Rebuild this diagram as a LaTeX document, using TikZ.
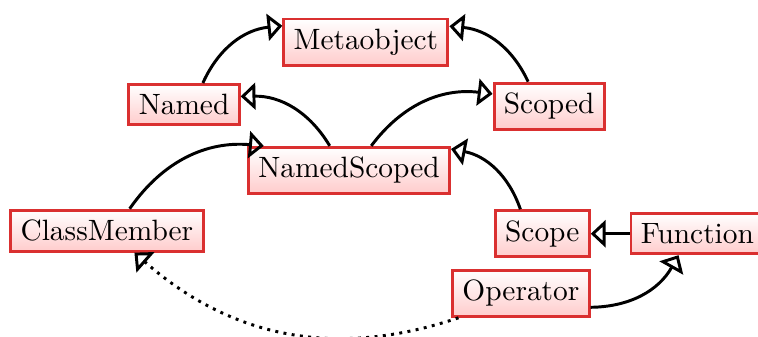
\documentclass[11pt,tikz,border=0pt]{standalone}
\usetikzlibrary{arrows.meta}
\definecolor{clsred}{RGB}{218,48,48}
\begin{document}
\begin{tikzpicture}[
    cls/.style={draw=clsred, line width=1.1pt, top color=white, bottom color=red!20},
    inherit/.style={-{Triangle[open,length=5.5pt,width=10pt]}, line width=1.1pt},
    realize/.style={inherit, dash pattern=on 1.1pt off 2pt}]
      \useasboundingbox (0,0) rectangle (9.924,-4.399);
      \path
        (4.79,-0.55) node[cls] (Metaobject){Metaobject}
        (2.41,-1.37) node[cls] (Named){Named}
        (7.19,-1.39) node[cls] (Scoped){Scoped}
        (4.57,-2.23) node[cls] (NamedScoped){NamedScoped}
        (1.40,-3.02) node[cls] (ClassMember){ClassMember}
        (7.10,-3.06) node[cls] (Scope){Scope}
        (9.13,-3.06) node[cls] (Function){Function}
        (6.82,-3.84) node[cls] (Operator){Operator};
      \begin{scope}[inherit]
        \draw (Named) to[bend left] (Metaobject);
        \draw (Scoped) to[bend right] (Metaobject);
        \draw (NamedScoped) to[bend right] (Named);
        \draw (NamedScoped) to[bend left] (Scoped);
        \draw (ClassMember) to[bend left] (NamedScoped);
        \draw (Scope) to[bend right] (NamedScoped);
        \draw (Function) to (Scope);
        \draw (Operator) to[bend right] (Function);
        \draw[realize] (Operator) to[bend left] (ClassMember);
      \end{scope}
    \end{tikzpicture}
\end{document}
